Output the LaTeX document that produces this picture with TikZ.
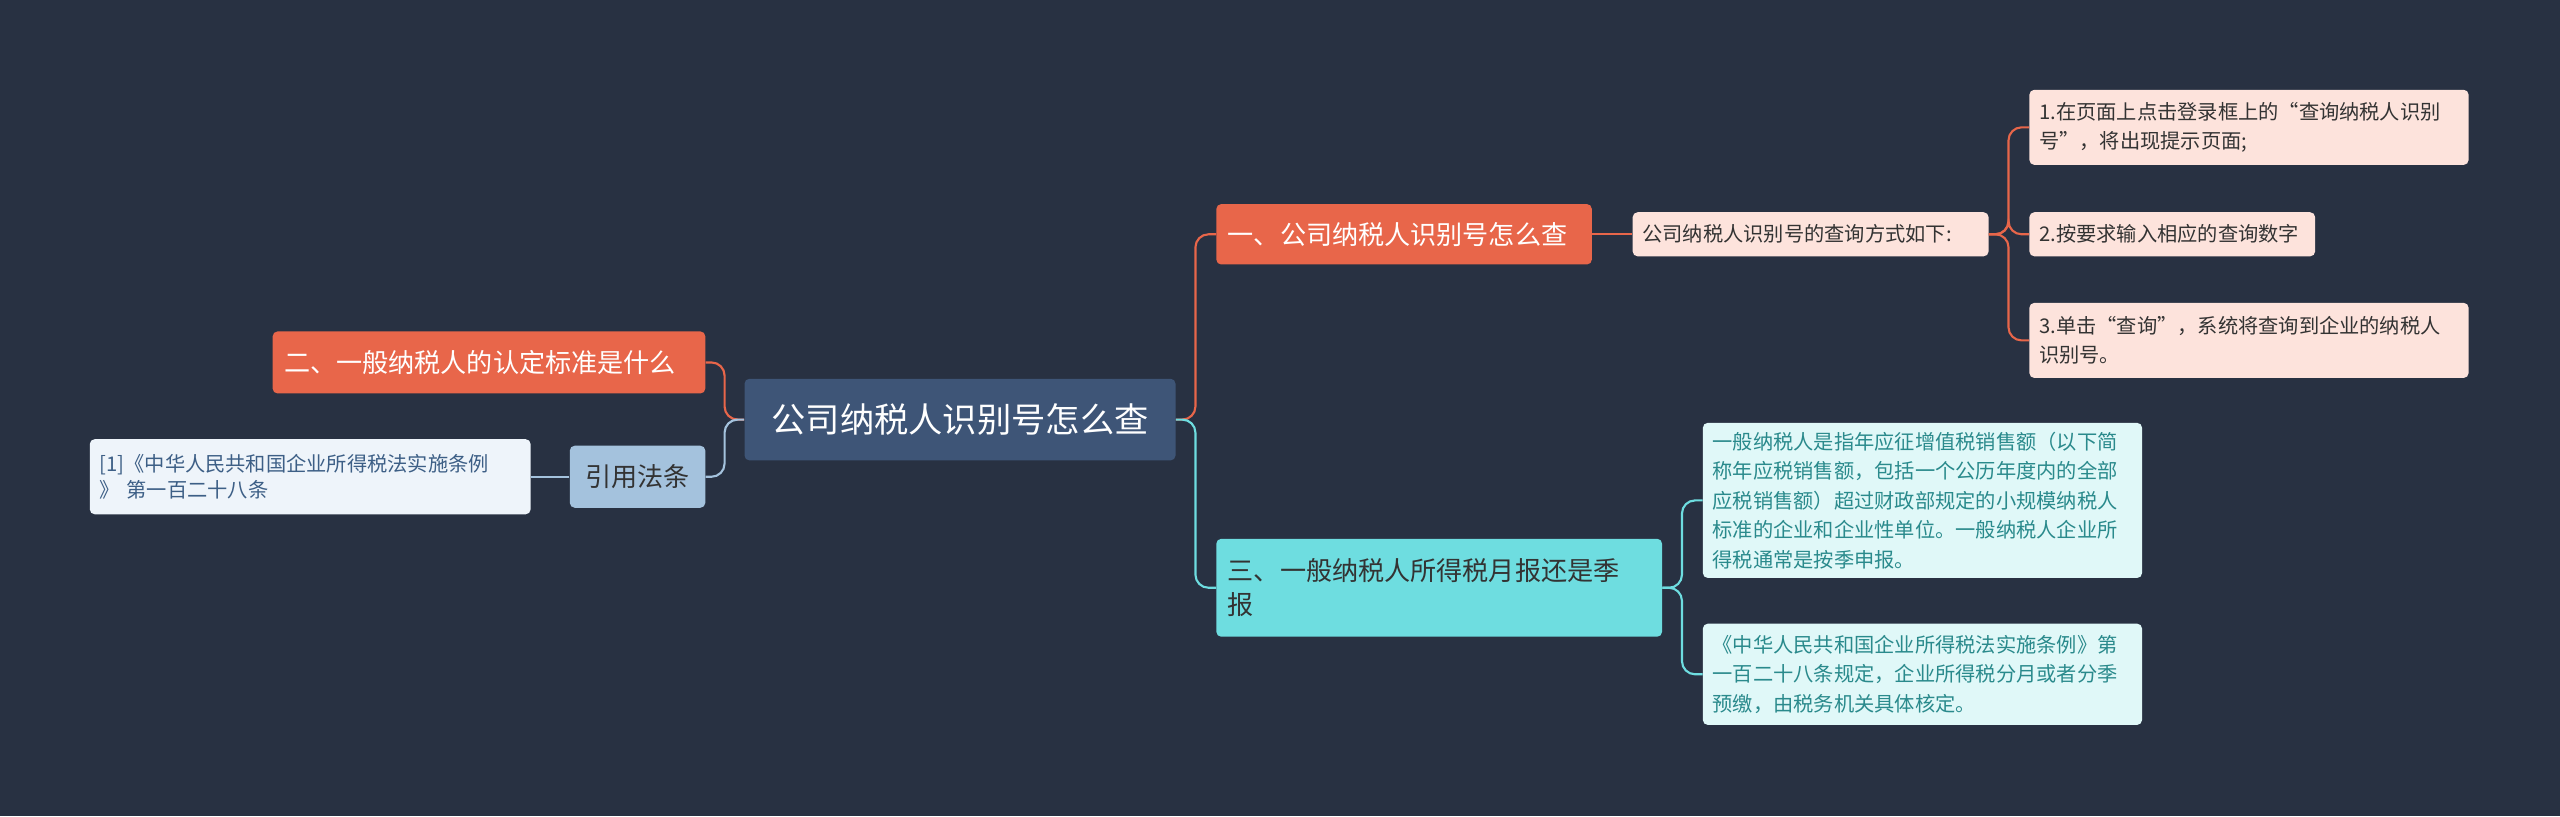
\documentclass[tikz,border=0pt]{standalone}
\usepackage{fontspec}
\setmainfont{Noto Sans CJK SC}
\usetikzlibrary{positioning}
\definecolor{bgcol}{HTML}{283142}
\definecolor{rootcol}{HTML}{3E5577}
\definecolor{orangecol}{HTML}{E8664A}
\definecolor{pinkcol}{HTML}{FDE3DC}
\definecolor{cyancol}{HTML}{6EDDE0}
\definecolor{lcyancol}{HTML}{E0F8F8}
\definecolor{tealtext}{HTML}{2A8A8C}
\definecolor{bluecol}{HTML}{A4C2DD}
\definecolor{lbluecol}{HTML}{EEF4FA}
\definecolor{bluetext}{HTML}{3D5F86}
\begin{document}
\begin{tikzpicture}[x=1pt,y=-1pt,
    box/.style={rounded corners=3pt, inner sep=0pt, align=left},
    rootbox/.style={box, fill=rootcol, text=white, font=\fontsize{21}{25}\selectfont, align=center},
    mainbox/.style={box, fill=orangecol, text=white, font=\fontsize{16}{21}\selectfont},
    leafbox/.style={box, fill=pinkcol, text=black!80, font=\fontsize{12.4}{18}\selectfont},
    cyanbox/.style={box, fill=cyancol, text=black!80, font=\fontsize{16}{21}\selectfont},
    lcyanbox/.style={box, fill=lcyancol, text=tealtext, font=\fontsize{12.4}{18}\selectfont},
    link/.style={line width=1.3pt, rounded corners=8pt}]
    \fill[bgcol] (0,0) rectangle (1568,500);
    \useasboundingbox (0,0) rectangle (1568,500);

    % centre
    \node[rootbox, minimum width=264, minimum height=50] (root) at (588,257) {公司纳税人识别号怎么查};

    % right side
    \node[mainbox, minimum width=230, minimum height=37, text width=216] (a) at (860,143.5) {一、公司纳税人识别号怎么查};
    \node[leafbox, minimum width=218, minimum height=27, text width=206] (a1) at (1109,143.5) {公司纳税人识别号的查询方式如下:};
    \node[leafbox, minimum width=269, minimum height=46, text width=257] (a1a) at (1377.5,78) {1.在页面上点击登录框上的“查询纳税人识别\\号”，将出现提示页面;};
    \node[leafbox, minimum width=175, minimum height=27, text width=163] (a1b) at (1330.5,143.5) {2.按要求输入相应的查询数字};
    \node[leafbox, minimum width=269, minimum height=46, text width=257] (a1c) at (1377.5,208.5) {3.单击“查询”，系统将查询到企业的纳税人\\识别号。};

    \node[cyanbox, minimum width=273, minimum height=60, text width=259] (b) at (881.5,360) {三、一般纳税人所得税月报还是季\\报};
    \node[lcyanbox, minimum width=269, minimum height=95, text width=257] (b1) at (1177.5,306.5) {一般纳税人是指年应征增值税销售额（以下简\\称年应税销售额，包括一个公历年度内的全部\\应税销售额）超过财政部规定的小规模纳税人\\标准的企业和企业性单位。一般纳税人企业所\\得税通常是按季申报。};
    \node[lcyanbox, minimum width=269, minimum height=62, text width=257] (b2) at (1177.5,413) {《中华人民共和国企业所得税法实施条例》第\\一百二十八条规定，企业所得税分月或者分季\\预缴，由税务机关具体核定。};

    % left side
    \node[mainbox, minimum width=265, minimum height=38, text width=251] (c) at (299.5,222) {二、一般纳税人的认定标准是什么};
    \node[box, fill=bluecol, text=black!80, font=\fontsize{16}{21}\selectfont, minimum width=83, minimum height=38, align=center] (d) at (390.5,292) {引用法条};
    \node[box, fill=lbluecol, text=bluetext, font=\fontsize{12.4}{16}\selectfont, minimum width=270, minimum height=46, text width=258] (d1) at (190,292) {[1]《中华人民共和国企业所得税法实施条例\\》 第一百二十八条};

    % connectors
    \draw[link, orangecol] (root.east) -- ([xshift=12]root.east) |- (a.west);
    \draw[link, cyancol] (root.east) -- ([xshift=12]root.east) |- (b.west);
    \draw[link, orangecol] (a.east) -- (a1.west);
    \foreach \n in {a1a,a1b,a1c}
        \draw[link, orangecol] (a1.east) -- ([xshift=12]a1.east) |- (\n.west);
    \foreach \n in {b1,b2}
        \draw[link, cyancol] (b.east) -- ([xshift=12]b.east) |- (\n.west);
    \draw[link, orangecol] (root.west) -- ([xshift=-12]root.west) |- (c.east);
    \draw[link, bluecol] (root.west) -- ([xshift=-12]root.west) |- (d.east);
    \draw[link, bluecol] (d.west) -- (d1.east);
\end{tikzpicture}
\end{document}
